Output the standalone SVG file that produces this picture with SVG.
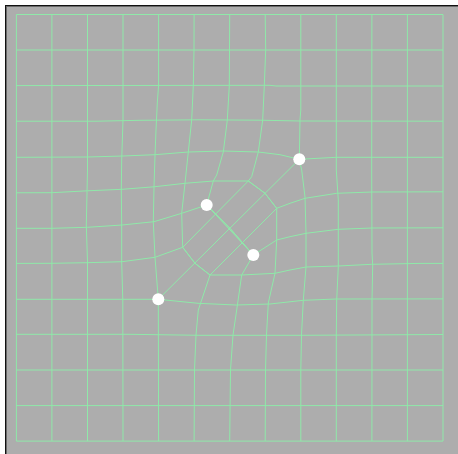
<svg xmlns="http://www.w3.org/2000/svg" width="458" height="454" viewBox="0 0 458 454">
<style>
.g{fill:none;stroke:#8fe9a9;stroke-width:1}
.dot{fill:#ffffff}
</style>
<rect x="0" y="0" width="458" height="454" fill="#ffffff"/>
<rect x="6" y="5" width="452" height="449" fill="#adadad"/>
<line x1="5" y1="5.5" x2="458" y2="5.5" stroke="#111" stroke-width="1"/>
<line x1="5.5" y1="5" x2="5.5" y2="454" stroke="#111" stroke-width="1"/>
<line x1="6" y1="6.5" x2="458" y2="6.5" stroke="#6a6a6a" stroke-width="1"/>
<line x1="6.5" y1="6" x2="6.5" y2="454" stroke="#6a6a6a" stroke-width="1"/>
<g id="grid-rows" class="g">
<polyline points="16.4,14.5 443,14.5"/>
<polyline points="16.4,50 443,50"/>
<polyline points="16.4,85.6 270,85.3 276,86 443,86"/>
<polyline points="16.4,121.2 97,121.2 140,120.3 200,119.8 260,120.2 300,121 443,121.2"/>
<polyline points="16.4,157.3 87.5,157 123,156 155,154.7 188.3,152 223.3,151 258.3,152 280,154.7 299.3,159.3 336.3,157.3 443,157.3"/>
<polyline points="16.4,192.8 52,192.7 87.5,190.8 122,189.3 154,186.8 185,183.3 213.3,181 248.3,181 265,193.3 276.7,208.3 290,203.3 305,198.3 336.7,193.3 372,192 443,191.8"/>
<polyline points="16.4,228.3 52,228.3 87.5,227.3 122,225 154,221.7 181.7,213.3 206.7,205 230,228.3 253.3,255 276.7,240 290,236.7 306,233.3 338.3,229.3 372,228 443,227.8"/>
<polyline points="16.4,263.4 52,263.3 87.5,262.7 122,261.7 155,257.3 182.7,247.3 195,263.3 210,275 241.7,275 275,273.3 290,270 306,267 338.3,266 371.7,264.3 420,263.4 443,263.4"/>
<polyline points="16.4,299.3 158.3,299.3 198,303.3 236,305 270,304 303.3,300.3 336.3,299 443,298.9"/>
<polyline points="16.4,334.3 130,334.3 200,335.3 300,335.3 443,334.5"/>
<polyline points="16.4,370 443,370"/>
<polyline points="16.4,405.6 443,405.6"/>
<polyline points="16.4,441.1 443,441.1"/>
</g>
<g id="grid-cols" class="g">
<polyline points="16.4,14.5 16.4,441.1"/>
<polyline points="51.9,14.5 51.9,441.1"/>
<polyline points="87.5,14.5 87.5,170 86.3,225 87.5,262 87.5,441.1"/>
<polyline points="123,14.5 123,120 121.7,160 121.3,190 121.7,225 121.7,262 122.8,300 123,441.1"/>
<polyline points="158.6,14.5 158.6,85 157.3,103 156,130 155,155 154,187 153.3,222 155,257.3 158.3,299.3 158.6,441.1"/>
<polyline points="194.1,14.5 194,50 193.3,85.6 191.7,120 188.3,152 185,183.3 181.7,213.3 182.7,247.3 195,263.3 210,275 198.3,310 196,335 194.5,370 194.1,441.1"/>
<polyline points="229.7,14.5 229.5,50 229.3,85.6 227.3,120 223.3,152 216.7,175 213.3,181 206.7,205 230,228.3 253.3,255 241.7,275 236.7,310 233,335 230.5,370 229.7,441.1"/>
<polyline points="265.2,14.5 265.7,50 264.3,85.6 262.7,120 258.3,152 251.7,176.7 248.3,181 265,193.3 276.7,208.3 276.7,240 275,273.3 268.3,303 266.5,335 265.5,370 265.2,441.1"/>
<polyline points="300.8,14.5 300.8,110 300,120 299.3,159.3 301.7,170 305,197 306,233 306,266.7 303.3,300.3 301.5,335 300.8,370 300.8,441.1"/>
<polyline points="336.3,14.5 336.3,170 338.3,200 338.3,230 338.3,266.7 336.7,300 336.3,335 336.3,441.1"/>
<polyline points="371.9,14.5 371.7,170 372,253 372.7,265 372,300 371.9,441.1"/>
<polyline points="407.4,14.5 407.4,441.1"/>
<polyline points="443,14.5 443,441.1"/>
</g>
<g id="connectors" class="g">
<line x1="182.7" y1="247.3" x2="248.3" y2="181"/>
<line x1="210" y1="275" x2="276.7" y2="208.3"/>
<line x1="158.3" y1="299.3" x2="299.3" y2="159.3"/>
<line x1="206.7" y1="205" x2="253.3" y2="255"/>
</g>
<g id="p1"><circle class="dot" cx="299.3" cy="159.3" r="6"/></g>
<g id="p2"><circle class="dot" cx="206.7" cy="205" r="6"/></g>
<g id="p3"><circle class="dot" cx="253.3" cy="255" r="6"/></g>
<g id="p4"><circle class="dot" cx="158.3" cy="299.3" r="6"/></g>
</svg>
